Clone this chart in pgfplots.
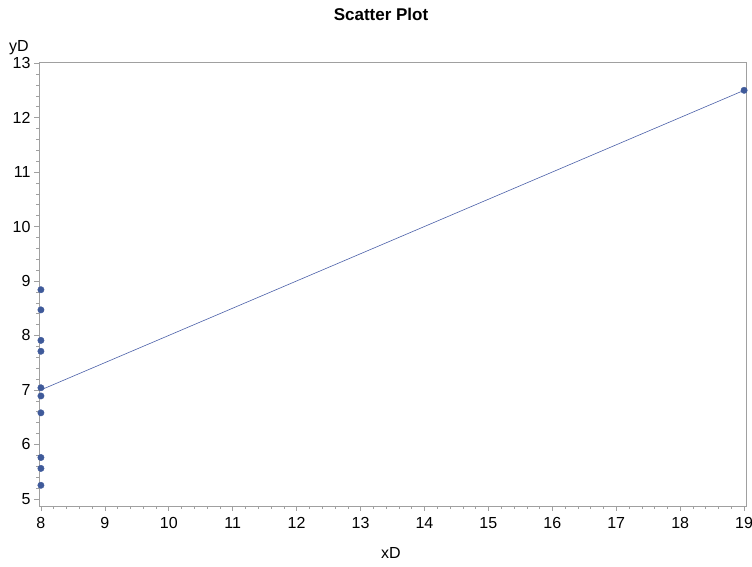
\documentclass[border=0pt]{standalone}
\usepackage{pgfplots}
\pgfplotsset{compat=1.18}
\usepackage{fontspec}
\setmainfont{Liberation Sans}
\definecolor{dot}{HTML}{3F5A9A}
\definecolor{fitline}{HTML}{4A5FA8}
\definecolor{axgray}{HTML}{A0A0A0}
\begin{document}
\begin{tikzpicture}[x=1bp,y=1bp]
\useasboundingbox (-39,-61) rectangle (713,506);
\begin{axis}[
  at={(0,0)}, anchor=south west,
  scale only axis, width=707bp, height=444bp,
  xmin=7.97, xmax=19.03, ymin=4.87, ymax=13.02,
  xtick={8,...,19}, ytick={5,...,13},
  minor x tick num=4, minor y tick num=4,
  tick align=outside, tickpos=left,
  major tick length=5bp, minor tick length=3bp,
  axis line style={axgray, line width=0.8pt},
  every tick/.style={axgray, line width=0.6pt},
  every minor tick/.style={axgray, line width=0.5pt},
  tick label style={font=\fontsize{16bp}{18bp}\selectfont, text=black},
  /pgf/number format/assume math mode=true,
  xticklabel style={yshift=-3bp},
  yticklabel style={xshift=0bp},
  clip=false,
]
\addplot[fitline, line width=0.6pt, no marks] coordinates {(8,7.0009) (19,12.4998)};
\addplot[only marks, mark=*, mark size=3.2bp, mark options={draw=dot, fill=dot}] coordinates {
(8,6.58) (8,5.76) (8,7.71) (8,8.84) (8,8.47) (8,7.04) (8,5.25) (19,12.50) (8,5.56) (8,7.91) (8,6.89)};
\end{axis}
\node[font=\bfseries\fontsize{17bp}{19bp}\selectfont] at (342,492) {Scatter Plot};
\node[font=\fontsize{16bp}{18bp}\selectfont] at (-20,458) {yD};
\node[font=\fontsize{16bp}{18bp}\selectfont] at (352,-47) {xD};
\end{tikzpicture}
\end{document}
